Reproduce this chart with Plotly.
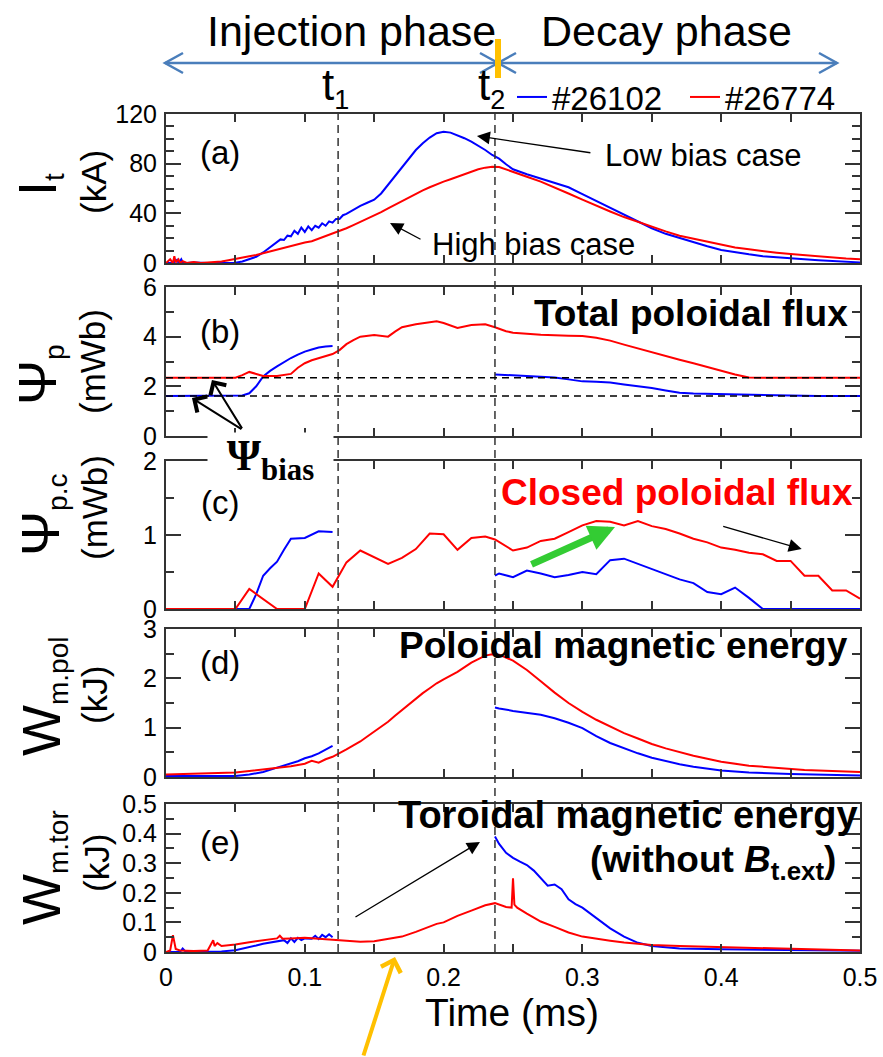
import plotly.graph_objects as go

W, H = 883, 1057
FONT = "Arial, 'Liberation Sans', sans-serif"
SERIF = "'Times New Roman', 'Liberation Serif', serif"
BLUE = "#0000ff"
RED = "#ff0000"
AX = "#333333"


def px(x):
    return x / W


def py(y):
    return 1 - y / H


# ---------------- data (time in ms) ----------------
t1, t2 = 0.124, 0.237
psi_bias_26102, psi_bias_26774 = 1.61, 2.35

# (a) toroidal current I_t [kA]
it_26102 = [(0, 0), (0.005, 0), (0.008, 2.5), (0.009, 0), (0.011, 3), (0.012, 0.5), (0.015, 0), (0.02, 0.5),
            (0.03, 0), (0.04, 0), (0.05, 0.3), (0.055, 1.2), (0.06, 2.8), (0.065, 5), (0.07, 8.5), (0.075, 12.5),
            (0.08, 16.5), (0.0825, 19), (0.085, 18.5), (0.0875, 22), (0.09, 21.5), (0.0925, 26), (0.095, 23.5),
            (0.0975, 28.5), (0.1, 25), (0.1025, 29.5), (0.105, 26.5), (0.1075, 30), (0.11, 28.5), (0.1125, 32),
            (0.115, 30), (0.1175, 33.5), (0.12, 32.5), (0.1225, 35.5), (0.125, 35.5), (0.1275, 38.5), (0.13, 39.5),
            (0.135, 43), (0.14, 46), (0.145, 48.5), (0.15, 51), (0.155, 56), (0.16, 63), (0.165, 70), (0.17, 77.5),
            (0.175, 84.5), (0.18, 91), (0.185, 96.5), (0.19, 101), (0.195, 104.5), (0.2, 105.7), (0.205, 105),
            (0.21, 103), (0.215, 100.5), (0.22, 97.7), (0.225, 94.5), (0.23, 91), (0.235, 87), (0.24, 84),
            (0.245, 79.5), (0.25, 75.5), (0.26, 71.5), (0.27, 68), (0.28, 64.5), (0.29, 61), (0.3, 55.5),
            (0.31, 50), (0.32, 44), (0.33, 38.5), (0.34, 33), (0.35, 28), (0.36, 23.5), (0.37, 20), (0.38, 16.5),
            (0.39, 13.5), (0.4, 10.5), (0.41, 8.5), (0.42, 7), (0.43, 5.5), (0.44, 4.5), (0.45, 3.8), (0.46, 3),
            (0.47, 2.2), (0.48, 1.5), (0.49, 1), (0.5, 0.5)]
it_26774 = [(0, 0), (0.003, 3), (0.005, 0), (0.006, 5.5), (0.007, 0.5), (0.009, 3), (0.01, 0), (0.012, 1.5),
            (0.015, 0), (0.02, 0.8), (0.025, 0), (0.03, 0.5), (0.035, 0.5), (0.04, 1.2), (0.045, 2.2), (0.05, 3.5),
            (0.055, 4.5), (0.06, 5.5), (0.065, 6.5), (0.07, 8), (0.075, 9), (0.08, 10.5), (0.085, 12), (0.09, 13.5),
            (0.095, 15), (0.1, 16.5), (0.105, 17.5), (0.11, 19.5), (0.115, 21.5), (0.12, 23.5), (0.125, 25.5),
            (0.13, 28), (0.135, 30.5), (0.14, 33), (0.145, 35.5), (0.15, 38.5), (0.155, 41), (0.16, 44),
            (0.165, 47), (0.17, 50), (0.175, 53), (0.18, 56), (0.185, 58.5), (0.19, 61), (0.195, 63.5),
            (0.2, 65.5), (0.205, 67.5), (0.21, 69.5), (0.215, 71.5), (0.22, 73.5), (0.225, 75.5), (0.23, 76.8),
            (0.235, 77.5), (0.24, 77.3), (0.245, 75.5), (0.25, 73.5), (0.26, 69.5), (0.27, 65.5), (0.28, 61),
            (0.29, 56), (0.3, 51), (0.31, 46), (0.32, 41.5), (0.33, 37), (0.34, 33), (0.35, 29), (0.36, 25.5),
            (0.37, 22), (0.38, 19.5), (0.39, 17), (0.4, 14.5), (0.41, 12.5), (0.42, 11), (0.43, 9.5), (0.44, 8.3),
            (0.45, 7.2), (0.46, 6.2), (0.47, 5.2), (0.48, 4.4), (0.49, 3.6), (0.5, 3)]

# (b) total poloidal flux [mWb]
psi_26102_inj = [(0, 1.61), (0.05, 1.61), (0.055, 1.63), (0.06, 1.72), (0.065, 2.0), (0.07, 2.4), (0.075, 2.62),
                 (0.08, 2.8), (0.085, 2.98), (0.09, 3.14), (0.095, 3.28), (0.1, 3.4), (0.105, 3.48), (0.11, 3.56),
                 (0.115, 3.6), (0.12, 3.62)]
psi_26102_dec = [(0.237, 2.48), (0.25, 2.44), (0.26, 2.42), (0.27, 2.4), (0.28, 2.36), (0.29, 2.28), (0.3, 2.2),
                 (0.31, 2.18), (0.32, 2.15), (0.33, 2.07), (0.34, 2.0), (0.35, 1.93), (0.36, 1.83), (0.37, 1.74),
                 (0.38, 1.71), (0.39, 1.7), (0.4, 1.69), (0.42, 1.66), (0.45, 1.62), (0.47, 1.61), (0.5, 1.61)]
psi_26774 = [(0, 2.35), (0.05, 2.35), (0.055, 2.45), (0.06, 2.58), (0.065, 2.5), (0.07, 2.42), (0.08, 2.42),
             (0.085, 2.45), (0.09, 2.5), (0.095, 2.75), (0.1, 2.93), (0.105, 3.05), (0.11, 3.13), (0.115, 3.22),
             (0.12, 3.3), (0.125, 3.46), (0.13, 3.7), (0.135, 3.86), (0.14, 4.0), (0.15, 4.07), (0.16, 4.0),
             (0.165, 4.2), (0.17, 4.38), (0.18, 4.5), (0.19, 4.6), (0.195, 4.62), (0.2, 4.55), (0.21, 4.35),
             (0.22, 4.47), (0.23, 4.5), (0.237, 4.38), (0.245, 4.22), (0.25, 4.16), (0.27, 4.08), (0.29, 4.04),
             (0.3, 4.03), (0.31, 3.96), (0.32, 3.84), (0.33, 3.68), (0.34, 3.52), (0.35, 3.36), (0.36, 3.22),
             (0.37, 3.07), (0.38, 2.93), (0.39, 2.77), (0.4, 2.62), (0.41, 2.48), (0.42, 2.36), (0.43, 2.35),
             (0.5, 2.35)]

# (c) closed poloidal flux [mWb]
psic_26102_inj = [(0, 0), (0.06, 0), (0.065, 0.2), (0.07, 0.45), (0.075, 0.55), (0.08, 0.64), (0.085, 0.8),
                  (0.09, 0.95), (0.1, 0.96), (0.11, 1.05), (0.12, 1.04)]
psic_26102_dec = [(0.237, 0.45), (0.24, 0.48), (0.25, 0.43), (0.26, 0.52), (0.27, 0.48), (0.28, 0.43),
                  (0.29, 0.46), (0.3, 0.5), (0.31, 0.47), (0.32, 0.66), (0.33, 0.68), (0.34, 0.61), (0.35, 0.55),
                  (0.36, 0.48), (0.37, 0.4), (0.38, 0.35), (0.39, 0.23), (0.4, 0.2), (0.41, 0.29), (0.42, 0.15),
                  (0.43, 0.0), (0.5, 0.0)]
psic_26774 = [(0, 0), (0.05, 0), (0.06, 0.27), (0.08, 0.0), (0.1, 0.0), (0.11, 0.48), (0.12, 0.3), (0.13, 0.63),
              (0.14, 0.79), (0.16, 0.61), (0.17, 0.69), (0.18, 0.81), (0.19, 1.02), (0.2, 1.01), (0.21, 0.8),
              (0.22, 0.96), (0.23, 0.98), (0.237, 0.94), (0.25, 0.79), (0.26, 0.83), (0.27, 0.92), (0.28, 0.95),
              (0.29, 1.04), (0.3, 1.13), (0.31, 1.19), (0.32, 1.18), (0.33, 1.13), (0.34, 1.19), (0.35, 1.12),
              (0.36, 1.08), (0.37, 1.02), (0.38, 0.95), (0.39, 0.9), (0.4, 0.83), (0.41, 0.8), (0.42, 0.76),
              (0.43, 0.74), (0.44, 0.65), (0.45, 0.65), (0.46, 0.45), (0.47, 0.45), (0.48, 0.25), (0.49, 0.25),
              (0.5, 0.14)]

# (d) poloidal magnetic energy [kJ]
wpol_26102_inj = [(0, 0.02), (0.05, 0.02), (0.06, 0.05), (0.07, 0.1), (0.08, 0.19), (0.085, 0.23), (0.09, 0.28),
                  (0.095, 0.32), (0.1, 0.38), (0.105, 0.42), (0.11, 0.48), (0.115, 0.55), (0.12, 0.63)]
wpol_26102_dec = [(0.237, 1.41), (0.24, 1.39), (0.25, 1.34), (0.26, 1.3), (0.27, 1.26), (0.28, 1.19), (0.29, 1.1),
                  (0.3, 0.99), (0.31, 0.83), (0.32, 0.69), (0.33, 0.58), (0.34, 0.48), (0.35, 0.39), (0.36, 0.32),
                  (0.37, 0.26), (0.38, 0.21), (0.39, 0.17), (0.4, 0.13), (0.42, 0.09), (0.45, 0.06), (0.5, 0.03)]
wpol_26774 = [(0, 0.05), (0.02, 0.06), (0.04, 0.08), (0.05, 0.09), (0.06, 0.12), (0.07, 0.15), (0.08, 0.18),
              (0.09, 0.22), (0.1, 0.27), (0.105, 0.33), (0.11, 0.29), (0.115, 0.36), (0.12, 0.41), (0.125, 0.48),
              (0.13, 0.56), (0.135, 0.64), (0.14, 0.72), (0.145, 0.82), (0.15, 0.92), (0.155, 1.02), (0.16, 1.12),
              (0.165, 1.24), (0.17, 1.36), (0.175, 1.48), (0.18, 1.6), (0.185, 1.7), (0.19, 1.8), (0.195, 1.9),
              (0.2, 1.98), (0.21, 2.13), (0.22, 2.32), (0.23, 2.46), (0.235, 2.49), (0.24, 2.48), (0.25, 2.36),
              (0.26, 2.17), (0.27, 1.94), (0.28, 1.71), (0.29, 1.5), (0.3, 1.32), (0.31, 1.16), (0.32, 1.02),
              (0.33, 0.89), (0.34, 0.78), (0.35, 0.67), (0.36, 0.58), (0.37, 0.5), (0.38, 0.43), (0.39, 0.37),
              (0.4, 0.31), (0.42, 0.23), (0.44, 0.18), (0.46, 0.14), (0.48, 0.12), (0.5, 0.1)]

# (e) toroidal magnetic energy without external field [kJ]
wtor_26102_inj = [(0, 0), (0.01, 0.0), (0.012, 0.012), (0.014, 0.002), (0.02, 0), (0.03, 0.0), (0.04, 0.002),
                  (0.05, 0.006), (0.06, 0.015), (0.065, 0.022), (0.07, 0.028), (0.075, 0.032), (0.08, 0.035),
                  (0.085, 0.04), (0.0875, 0.03), (0.09, 0.046), (0.0925, 0.034), (0.095, 0.048), (0.0975, 0.04),
                  (0.1, 0.046), (0.105, 0.045), (0.1075, 0.055), (0.11, 0.044), (0.1125, 0.058), (0.115, 0.05),
                  (0.1175, 0.06), (0.12, 0.05)]
wtor_26102_dec = [(0.237, 0.39), (0.24, 0.365), (0.245, 0.335), (0.25, 0.318), (0.255, 0.305), (0.26, 0.294),
                  (0.265, 0.275), (0.27, 0.25), (0.275, 0.224), (0.28, 0.228), (0.285, 0.212), (0.29, 0.178),
                  (0.295, 0.162), (0.3, 0.15), (0.31, 0.114), (0.32, 0.08), (0.33, 0.052), (0.34, 0.031),
                  (0.35, 0.02), (0.37, 0.012), (0.4, 0.009), (0.45, 0.006), (0.5, 0.004)]
wtor_26774 = [(0, 0), (0.003, 0.005), (0.005, 0.057), (0.007, 0.01), (0.01, 0.005), (0.02, 0.003), (0.03, 0.005),
              (0.032, 0.025), (0.034, 0.04), (0.035, 0.02), (0.037, 0.03), (0.04, 0.02), (0.045, 0.022),
              (0.05, 0.025), (0.06, 0.033), (0.07, 0.04), (0.075, 0.043), (0.08, 0.046), (0.082, 0.055),
              (0.084, 0.045), (0.09, 0.046), (0.1, 0.048), (0.11, 0.045), (0.12, 0.043), (0.125, 0.04),
              (0.13, 0.038), (0.14, 0.035), (0.15, 0.036), (0.16, 0.044), (0.17, 0.052), (0.18, 0.068),
              (0.19, 0.087), (0.195, 0.095), (0.2, 0.1), (0.21, 0.122), (0.22, 0.14), (0.23, 0.158), (0.237, 0.165),
              (0.245, 0.152), (0.249, 0.15), (0.25, 0.249), (0.251, 0.16), (0.253, 0.15), (0.26, 0.13),
              (0.27, 0.103), (0.28, 0.085), (0.29, 0.066), (0.3, 0.052), (0.31, 0.044), (0.32, 0.038),
              (0.33, 0.032), (0.34, 0.028), (0.35, 0.024), (0.37, 0.02), (0.4, 0.016), (0.45, 0.01), (0.5, 0.005)]

time_ticks = [0, 0.1, 0.2, 0.3, 0.4, 0.5]

# ---------------- panel geometry ----------------
panel_px = [(114, 263), (287, 436), (461, 609), (629, 777), (804, 952)]
y_ranges = [(0, 120), (0, 6), (0, 2), (0, 3), (0, 0.5)]
y_dticks = [(40, 10), (2, 1), (1, 0.5), (1, 0.5), (0.1, 0.05)]

panel_series = [
    [it_26102], [psi_26102_inj, psi_26102_dec], [psic_26102_inj, psic_26102_dec],
    [wpol_26102_inj, wpol_26102_dec], [wtor_26102_inj, wtor_26102_dec],
]
panel_series_red = [[it_26774], [psi_26774], [psic_26774], [wpol_26774], [wtor_26774]]

fig = go.Figure()

legend_done = {"#26102": False, "#26774": False}
for i in range(5):
    xa, ya = f"x{i + 1}", f"y{i + 1}"
    for name, color, segs in (("#26102", BLUE, panel_series[i]), ("#26774", RED, panel_series_red[i])):
        for seg in segs:
            fig.add_trace(go.Scatter(
                x=[p[0] for p in seg], y=[p[1] for p in seg], xaxis=xa, yaxis=ya,
                mode="lines", line=dict(color=color, width=2), name=name, legendgroup=name,
                showlegend=not legend_done[name], hoverinfo="skip"))
            legend_done[name] = True

xdom = [px(166), px(860)]
for i in range(5):
    top, bot = panel_px[i]
    suffix = "" if i == 0 else str(i + 1)
    fig.layout["xaxis" + suffix] = dict(
        domain=xdom, anchor=f"y{i + 1}", range=[0, 0.5], showgrid=False, zeroline=False,
        showline=True, linecolor=AX, linewidth=2, mirror="ticks", automargin=False,
        ticks="inside", ticklen=8, tickwidth=1.5, tickcolor=AX,
        tickvals=time_ticks, ticktext=[f"{v:g}" for v in time_ticks],
        minor=dict(ticks="inside", ticklen=8, tickwidth=1.5, tickcolor=AX, dtick=0.05, tick0=0),
        showticklabels=(i == 4), tickfont=dict(size=25, family=FONT),
        ticklabelstandoff=2,
    )
    major, minor = y_dticks[i]
    fig.layout["yaxis" + suffix] = dict(
        domain=[py(bot), py(top)], anchor=f"x{i + 1}", range=list(y_ranges[i]),
        showgrid=False, zeroline=False, showline=True, linecolor=AX, linewidth=2, mirror="ticks",
        automargin=False,
        ticks="inside", ticklen=15, tickwidth=1.5, tickcolor=AX, dtick=major, tick0=0,
        minor=dict(ticks="inside", ticklen=8, tickwidth=1.5, tickcolor=AX, dtick=minor, tick0=0),
        tickfont=dict(size=25, family=FONT), ticklabelstandoff=2,
    )

shapes = []
# phase boundaries
for tv in (t1, t2):
    shapes.append(dict(type="line", xref="x", yref="paper", x0=tv, x1=tv, y0=py(952), y1=py(108),
                       line=dict(color=AX, width=1.5, dash="8px,5px")))
# bias flux levels in (b)
for lv in (psi_bias_26774, psi_bias_26102):
    shapes.append(dict(type="line", xref="x2", yref="y2", x0=0, x1=0.5, y0=lv, y1=lv,
                       line=dict(color="black", width=1.5, dash="7px,5px")))


def seg_path(points):
    return "M" + " L".join(f"{px(a):.5f},{py(b):.5f}" for a, b in points)


ARROW_BLUE = "#4a7ebb"
for pts in ([(165, 63), (837, 63)],
            [(183, 53), (165, 63), (183, 73)],
            [(480, 53), (498, 63), (480, 73)],
            [(516, 53), (498, 63), (516, 73)],
            [(819, 53), (837, 63), (819, 73)]):
    shapes.append(dict(type="path", xref="paper", yref="paper", path=seg_path(pts),
                       line=dict(color=ARROW_BLUE, width=2.5)))
shapes.append(dict(type="line", xref="paper", yref="paper", x0=px(498), x1=px(498), y0=py(78), y1=py(39),
                   line=dict(color="#ffc000", width=6)))
fig.update_layout(shapes=shapes)

ann = []


def text(x, y, s, size, color="black", family=FONT, xanchor="center", **kw):
    ann.append(dict(x=px(x), y=py(y), xref="paper", yref="paper", text=s, showarrow=False,
                    xanchor=xanchor, yanchor="middle", font=dict(size=size, color=color, family=family), **kw))


# phase headers
text(351, 31, "Injection phase", 43)
text(666, 31, "Decay phase", 43)
text(335, 88, 't<sub><span style="font-size:27px">1</span></sub>', 44)
text(492, 88, 't<sub><span style="font-size:27px">2</span></sub>', 44)

# axis labels (rotated, two lines)
ylabels = [("I", "t", 38, 185, "(kA)", 93, 182),
           ("Ψ", "p", 38, 375, "(mWb)", 92, 362),
           ("Ψ", "p.c", 42, 515, "(mWb)", 94, 508),
           ("W", "m.pol", 42, 697, "(kJ)", 94, 695),
           ("W", "m.tor", 42, 868, "(kJ)", 96, 863)]
for sym, sub, sx, sy, unit, ux, uy in ylabels:
    text(sx, sy, f'<span style="font-size:54px">{sym}</span><sub>{sub}</sub>', 40, textangle=-90)
    text(ux, uy, unit, 35, textangle=-90)

# time axis title
text(512, 1012, "Time (ms)", 39)

# panel tags
for tag, ty in zip("abcde", (152, 332, 502, 662, 842)):
    text(220, ty, f"({tag})", 33)

# panel titles
text(850, 313, "<b>Total poloidal flux</b>", 37, xanchor="right")
text(855, 492, "<b>Closed poloidal flux</b>", 37, color=RED, xanchor="right")
text(850, 645, "<b>Poloidal magnetic energy</b>", 37, xanchor="right")
text(860, 815, "<b>Toroidal magnetic energy</b>", 38, xanchor="right")
text(838, 862, "<b>(without <i>B</i><sub>t.ext</sub>)</b>", 37, xanchor="right")

# case labels in (a)
text(703, 155, "Low bias case", 31)
text(533, 244, "High bias case", 31)

# bias flux label, boxed in white over the axes
text(270, 459, "<b>Ψ<sub>bias</sub></b>", 44, family=SERIF, bgcolor="white", width=125, height=52,
     borderpad=0)


def arrow(x, y, ax, ay, xref, yref, color="black", width=1.3, head=2, size=2.0):
    ann.append(dict(x=x, y=y, xref=xref, yref=yref, ax=ax, ay=ay, text="", showarrow=True,
                    arrowhead=head, arrowsize=size, arrowwidth=width, arrowcolor=color))


arrow(0.224, 102.3, 115, 17, "x", "y")
arrow(0.1614, 32.2, 32, 17, "x", "y")
arrow(0.0187, 1.53, 51, 32, "x2", "y2", width=2, head=4, size=1.8)
arrow(0.0331, 2.26, 31, 50, "x2", "y2", width=2, head=4, size=1.8)
arrow(0.3235, 1.108, -85, 38, "x3", "y3", color="#33cc33", width=7, head=2, size=0.75)
arrow(0.458, 0.81, -80, -23, "x3", "y3")
arrow(0.2262, 0.372, -126, 76, "x5", "y5")
arrow(px(395), py(957), -32, 100, "paper", "paper", color="#ffc000", width=4, head=4, size=1.0)

fig.update_layout(
    annotations=ann, width=W, height=H,
    margin=dict(l=0, r=0, t=0, b=0, pad=0, autoexpand=False),
    paper_bgcolor="white", plot_bgcolor="white", font=dict(family=FONT, color="black"),
    showlegend=True,
    legend=dict(orientation="h", x=px(858), xanchor="right", y=py(97), yanchor="middle",
                bgcolor="rgba(0,0,0,0)", font=dict(size=33, family=FONT), itemwidth=30,
                entrywidth=128, tracegroupgap=0),
    hovermode=False,
)

fig.write_html("out.html")
